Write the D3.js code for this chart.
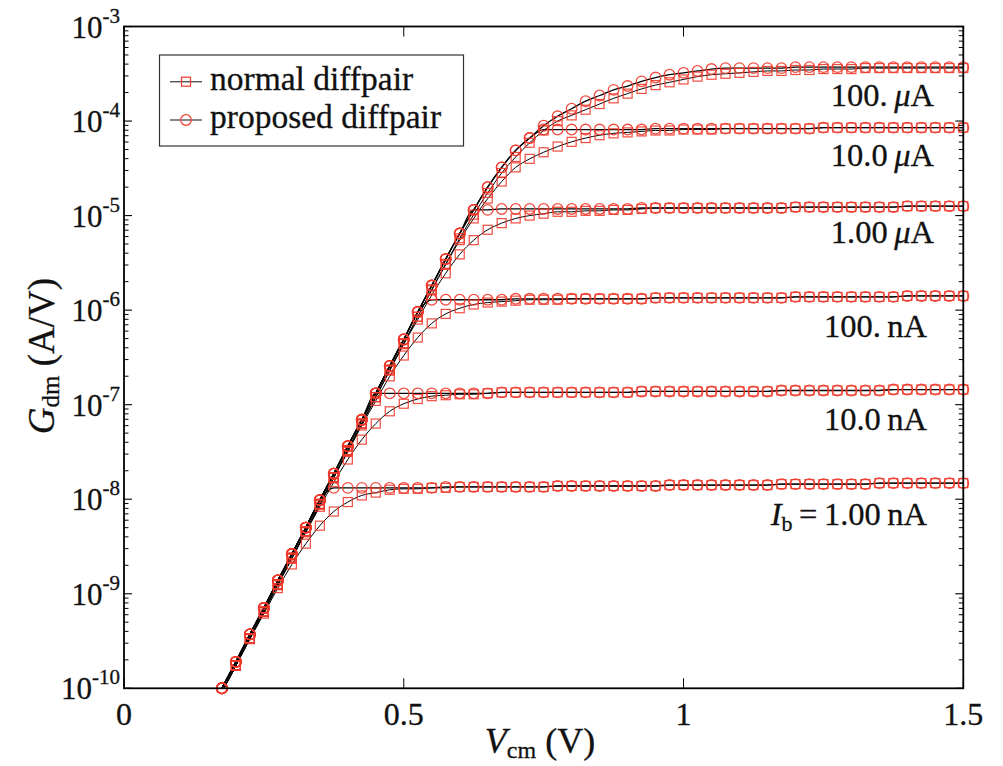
<!DOCTYPE html>
<html>
<head>
<meta charset="utf-8">
<script src="https://cdn.jsdelivr.net/npm/d3@7"></script>
<style>
  html, body { margin: 0; padding: 0; background: #fff; }
  svg { display: block; }
  text { font-family: "Liberation Serif", "Times New Roman", serif; fill: #111; stroke: #111; stroke-width: 0.3px; }
</style>
</head>
<body>
<svg id="chart" width="1003" height="766"></svg>
<script>
// ---------- data (log10 of Gdm in A/V) ----------
const vcm = [0.175,0.2,0.225,0.25,0.275,0.3,0.325,0.35,0.375,0.4,0.425,0.45,0.475,0.5,0.525,0.55,0.575,0.6,0.625,0.65,
  0.675,0.7,0.725,0.75,0.775,0.8,0.825,0.85,0.875,0.9,0.925,0.95,0.975,1.0,1.025,1.05,1.075,1.1,1.125,1.15,
  1.175,1.2,1.225,1.25,1.275,1.3,1.325,1.35,1.375,1.4,1.425,1.45,1.475,1.5];

const biasLabels = ["100. \u03BCA","10.0 \u03BCA","1.00 \u03BCA","100. nA","10.0 nA","1.00 nA"];

const propIb100uA = [-10.00,-9.72,-9.43,-9.15,-8.86,-8.58,-8.30,-8.01,-7.73,-7.44,-7.16,-6.88,-6.59,-6.31,-6.02,-5.74,-5.46,-5.19,-4.94,-4.70,
  -4.49,-4.31,-4.18,-4.05,-3.95,-3.87,-3.79,-3.73,-3.67,-3.63,-3.58,-3.54,-3.51,-3.49,-3.47,-3.45,-3.44,-3.44,-3.44,-3.44,
  -3.44,-3.43,-3.43,-3.43,-3.43,-3.43,-3.43,-3.43,-3.43,-3.43,-3.43,-3.43,-3.43,-3.43];
const propIb10uA = [-10.00,-9.72,-9.43,-9.15,-8.86,-8.58,-8.30,-8.01,-7.73,-7.44,-7.16,-6.88,-6.59,-6.31,-6.02,-5.74,-5.46,-5.19,-4.94,-4.70,
  -4.49,-4.31,-4.18,-4.09,-4.09,-4.09,-4.09,-4.09,-4.09,-4.09,-4.09,-4.08,-4.08,-4.08,-4.08,-4.08,-4.08,-4.08,-4.08,-4.08,
  -4.08,-4.08,-4.08,-4.07,-4.07,-4.07,-4.07,-4.07,-4.07,-4.07,-4.07,-4.07,-4.07,-4.07];
const propIb1uA = [-10.00,-9.72,-9.43,-9.15,-8.86,-8.58,-8.30,-8.01,-7.73,-7.44,-7.16,-6.88,-6.59,-6.31,-6.02,-5.74,-5.46,-5.19,-4.94,-4.94,
  -4.93,-4.93,-4.93,-4.93,-4.93,-4.93,-4.93,-4.93,-4.93,-4.93,-4.92,-4.92,-4.92,-4.92,-4.92,-4.92,-4.92,-4.92,-4.92,-4.92,
  -4.92,-4.91,-4.91,-4.91,-4.91,-4.91,-4.91,-4.91,-4.91,-4.90,-4.90,-4.90,-4.90,-4.90];
const propIb100nA = [-10.00,-9.72,-9.43,-9.15,-8.86,-8.58,-8.30,-8.01,-7.73,-7.44,-7.16,-6.88,-6.59,-6.31,-6.02,-5.89,-5.89,-5.89,-5.89,-5.89,
  -5.89,-5.88,-5.88,-5.88,-5.88,-5.88,-5.88,-5.88,-5.88,-5.88,-5.88,-5.87,-5.87,-5.87,-5.87,-5.87,-5.87,-5.87,-5.87,-5.87,
  -5.87,-5.86,-5.86,-5.86,-5.86,-5.86,-5.86,-5.86,-5.86,-5.85,-5.85,-5.85,-5.85,-5.85];
const propIb10nA = [-10.00,-9.72,-9.43,-9.15,-8.86,-8.58,-8.30,-8.01,-7.73,-7.44,-7.16,-6.88,-6.88,-6.88,-6.88,-6.88,-6.88,-6.88,-6.88,-6.88,
  -6.87,-6.87,-6.87,-6.87,-6.87,-6.87,-6.87,-6.87,-6.87,-6.87,-6.86,-6.86,-6.86,-6.86,-6.86,-6.86,-6.86,-6.86,-6.86,-6.86,
  -6.85,-6.85,-6.85,-6.85,-6.85,-6.85,-6.85,-6.85,-6.84,-6.84,-6.84,-6.84,-6.84,-6.84];
const propIb1nA = [-10.00,-9.72,-9.43,-9.15,-8.86,-8.58,-8.30,-8.01,-7.88,-7.88,-7.88,-7.88,-7.88,-7.88,-7.88,-7.88,-7.87,-7.87,-7.87,-7.87,
  -7.87,-7.87,-7.87,-7.87,-7.86,-7.86,-7.86,-7.86,-7.86,-7.86,-7.86,-7.86,-7.85,-7.85,-7.85,-7.85,-7.85,-7.85,-7.85,-7.85,
  -7.84,-7.84,-7.84,-7.84,-7.84,-7.84,-7.84,-7.83,-7.83,-7.83,-7.83,-7.83,-7.83,-7.83];

const normIb100uA = [-10.04,-9.76,-9.47,-9.19,-8.90,-8.62,-8.34,-8.05,-7.77,-7.48,-7.20,-6.92,-6.63,-6.35,-6.07,-5.78,-5.51,-5.24,-4.99,-4.76,
  -4.55,-4.38,-4.23,-4.10,-4.00,-3.94,-3.88,-3.82,-3.76,-3.71,-3.66,-3.62,-3.59,-3.56,-3.53,-3.51,-3.50,-3.49,-3.48,-3.47,
  -3.47,-3.46,-3.46,-3.45,-3.45,-3.45,-3.44,-3.44,-3.44,-3.44,-3.44,-3.44,-3.44,-3.44];
const normIb10uA = [-10.04,-9.76,-9.47,-9.19,-8.90,-8.62,-8.34,-8.05,-7.77,-7.48,-7.20,-6.92,-6.63,-6.35,-6.07,-5.79,-5.52,-5.26,-5.03,-4.82,
  -4.64,-4.49,-4.40,-4.33,-4.27,-4.22,-4.18,-4.15,-4.13,-4.12,-4.11,-4.10,-4.10,-4.09,-4.09,-4.09,-4.08,-4.08,-4.08,-4.08,
  -4.08,-4.08,-4.08,-4.07,-4.07,-4.07,-4.07,-4.07,-4.07,-4.07,-4.07,-4.07,-4.07,-4.07];
const normIb1uA = [-10.04,-9.76,-9.47,-9.19,-8.90,-8.62,-8.34,-8.05,-7.77,-7.49,-7.20,-6.92,-6.64,-6.36,-6.10,-5.84,-5.61,-5.41,-5.26,-5.15,
  -5.08,-5.03,-5.00,-4.98,-4.96,-4.96,-4.95,-4.95,-4.94,-4.94,-4.93,-4.92,-4.92,-4.92,-4.92,-4.92,-4.92,-4.92,-4.92,-4.92,
  -4.92,-4.91,-4.91,-4.91,-4.91,-4.91,-4.91,-4.91,-4.91,-4.90,-4.90,-4.90,-4.90,-4.90];
const normIb100nA = [-10.04,-9.76,-9.47,-9.19,-8.90,-8.62,-8.34,-8.06,-7.77,-7.50,-7.22,-6.96,-6.70,-6.48,-6.29,-6.14,-6.04,-5.98,-5.94,-5.92,
  -5.91,-5.90,-5.89,-5.89,-5.89,-5.88,-5.88,-5.88,-5.88,-5.88,-5.88,-5.87,-5.87,-5.87,-5.87,-5.87,-5.87,-5.87,-5.87,-5.87,
  -5.87,-5.86,-5.86,-5.86,-5.86,-5.86,-5.86,-5.86,-5.86,-5.85,-5.85,-5.85,-5.85,-5.85];
const normIb10nA = [-10.04,-9.76,-9.47,-9.19,-8.91,-8.63,-8.35,-8.08,-7.82,-7.58,-7.37,-7.20,-7.07,-6.99,-6.94,-6.91,-6.90,-6.89,-6.89,-6.88,
  -6.87,-6.87,-6.87,-6.87,-6.87,-6.87,-6.87,-6.87,-6.87,-6.87,-6.86,-6.86,-6.86,-6.86,-6.86,-6.86,-6.86,-6.86,-6.86,-6.86,
  -6.85,-6.85,-6.85,-6.85,-6.85,-6.85,-6.85,-6.85,-6.84,-6.84,-6.84,-6.84,-6.84,-6.84];
const normIb1nA = [-10.04,-9.76,-9.48,-9.21,-8.94,-8.69,-8.47,-8.28,-8.13,-8.03,-7.96,-7.93,-7.90,-7.89,-7.89,-7.88,-7.88,-7.87,-7.87,-7.87,
  -7.87,-7.87,-7.87,-7.87,-7.86,-7.86,-7.86,-7.86,-7.86,-7.86,-7.86,-7.86,-7.85,-7.85,-7.85,-7.85,-7.85,-7.85,-7.85,-7.85,
  -7.84,-7.84,-7.84,-7.84,-7.84,-7.84,-7.84,-7.83,-7.83,-7.83,-7.83,-7.83,-7.83,-7.83];

const xTicks = [0, 0.5, 1, 1.5];
const xTickLabels = ["0", "0.5", "1", "1.5"];
const yTickExps = [-10, -9, -8, -7, -6, -5, -4, -3];
const legendLabels = ["normal diffpair", "proposed diffpair"];

// ---------- layout ----------
const svg = d3.select("#chart");
const L = 124, R = 963.3, T = 26.5, B = 688.3;
const x = d3.scaleLinear().domain([0, 1.5]).range([L, R]);
const y = d3.scaleLog().domain([1e-10, 1e-3]).range([B, T]);
const red = "#f0392a";
const FONT = 31;

svg.append("rect").attr("width", 1003).attr("height", 766).attr("fill", "#fff");

svg.append("defs").append("clipPath").attr("id", "plotclip")
  .append("rect").attr("x", L).attr("y", T).attr("width", R - L).attr("height", B - T);

const normalSeries = [normIb100uA, normIb10uA, normIb1uA, normIb100nA, normIb10nA, normIb1nA];
const propSeries = [propIb100uA, propIb10uA, propIb1uA, propIb100nA, propIb10nA, propIb1nA];

const toPts = arr => arr.map((v, i) => ({ x: vcm[i], g: Math.pow(10, v) }));

const line = d3.line().x(d => x(d.x)).y(d => y(d.g)).curve(d3.curveMonotoneX);

const plot = svg.append("g");
const linesG = plot.append("g").attr("clip-path", "url(#plotclip)");
normalSeries.forEach(s => {
  linesG.append("path").datum(toPts(s)).attr("d", line)
    .attr("fill", "none").attr("stroke", "#000").attr("stroke-width", 1.0);
});
propSeries.forEach(s => {
  linesG.append("path").datum(toPts(s)).attr("d", line)
    .attr("fill", "none").attr("stroke", "#000").attr("stroke-width", 1.3);
});

// markers
const sq = 9, rc = 5.3;
normalSeries.forEach(s => {
  plot.append("g").selectAll("rect").data(toPts(s).filter(d => d.g >= 1e-10)).join("rect")
    .attr("x", d => x(d.x) - sq / 2).attr("y", d => y(d.g) - sq / 2)
    .attr("width", sq).attr("height", sq)
    .attr("fill", "none").attr("stroke", red).attr("stroke-width", 1.2).attr("stroke-opacity", 0.9);
});
propSeries.forEach(s => {
  plot.append("g").selectAll("circle").data(toPts(s).filter(d => d.g >= 1e-10)).join("circle")
    .attr("cx", d => x(d.x)).attr("cy", d => y(d.g)).attr("r", rc)
    .attr("fill", "none").attr("stroke", red).attr("stroke-width", 1.3).attr("stroke-opacity", 0.9);
});

// ---------- frame and ticks ----------
const ax = svg.append("g").attr("stroke", "#000");
ax.append("rect").attr("x", L).attr("y", T).attr("width", R - L).attr("height", B - T)
  .attr("fill", "none").attr("stroke-width", 1.8);

xTicks.forEach(t => {
  ax.append("line").attr("x1", x(t)).attr("x2", x(t)).attr("y1", B).attr("y2", B - 10).attr("stroke-width", 1);
  ax.append("line").attr("x1", x(t)).attr("x2", x(t)).attr("y1", T).attr("y2", T + 10).attr("stroke-width", 1);
});
yTickExps.forEach(e => {
  const yy = y(Math.pow(10, e));
  ax.append("line").attr("x1", L).attr("x2", L + 8).attr("y1", yy).attr("y2", yy).attr("stroke-width", 1.1);
  ax.append("line").attr("x1", R).attr("x2", R - 8).attr("y1", yy).attr("y2", yy).attr("stroke-width", 1.1);
  if (e < -3) {
    for (let m = 2; m <= 9; m++) {
      const ym = y(m * Math.pow(10, e));
      ax.append("line").attr("x1", L).attr("x2", L + 4.5).attr("y1", ym).attr("y2", ym).attr("stroke-width", 1);
      ax.append("line").attr("x1", R).attr("x2", R - 4.5).attr("y1", ym).attr("y2", ym).attr("stroke-width", 1);
    }
  }
});

// tick labels
xTicks.forEach((t, i) => {
  svg.append("text").attr("x", x(t)).attr("y", 725).attr("text-anchor", "middle")
    .attr("font-size", 32).text(xTickLabels[i]);
});
yTickExps.forEach(e => {
  const yy = y(Math.pow(10, e));
  const t = svg.append("text").attr("x", 120).attr("y", yy + 11).attr("text-anchor", "end")
    .attr("font-size", FONT);
  t.append("tspan").text("10");
  t.append("tspan").attr("font-size", 21).attr("dy", -15).text("-" + Math.abs(e));
});

// axis titles
const xt = svg.append("text").attr("x", 540).attr("y", 753).attr("text-anchor", "middle").attr("font-size", 36);
xt.append("tspan").attr("font-style", "italic").text("V");
xt.append("tspan").attr("font-size", 24).attr("dy", 5).text("cm");
xt.append("tspan").attr("dy", -5).text(" (V)");

const yt = svg.append("text").attr("transform", "translate(54,356) rotate(-90)")
  .attr("text-anchor", "middle").attr("font-size", 37);
yt.append("tspan").attr("font-style", "italic").text("G");
yt.append("tspan").attr("font-size", 25).attr("dy", 5).text("dm");
yt.append("tspan").attr("dy", -5).text(" (A/V)");

// bias annotations (placed under each plateau)
const annY = [106, 166, 243, 337, 430];
const annX = [934, 934, 934, 927, 927];
biasLabels.slice(0, 5).forEach((lab, i) => {
  const t = svg.append("text").attr("x", annX[i]).attr("y", annY[i]).attr("text-anchor", "end").attr("font-size", 32.5);
  const parts = lab.split(" ");
  t.append("tspan").text(parts[0] + "\u2009");
  if (parts[1].startsWith("\u03BC")) {
    t.append("tspan").attr("font-style", "italic").text("\u03BC");
    t.append("tspan").text(parts[1].slice(1));
  } else {
    t.append("tspan").text(parts[1]);
  }
});
{
  const t = svg.append("text").attr("x", 927).attr("y", 525).attr("text-anchor", "end").attr("font-size", 32.5);
  t.append("tspan").attr("font-style", "italic").text("I");
  t.append("tspan").attr("font-size", 22).attr("dy", 6).text("b");
  t.append("tspan").attr("dy", -6).text("\u2009=\u2009" + biasLabels[5].split(" ")[0] + "\u2009" + biasLabels[5].split(" ")[1]);
}

// legend
const lg = svg.append("g");
lg.append("rect").attr("x", 159.5).attr("y", 55).attr("width", 304).attr("height", 91)
  .attr("fill", "#fff").attr("stroke", "#333").attr("stroke-width", 1.2);
const rowsY = [81.7, 120];
rowsY.forEach((ry, i) => {
  lg.append("line").attr("x1", 170).attr("x2", 202).attr("y1", ry).attr("y2", ry)
    .attr("stroke", "#555").attr("stroke-width", 1.4);
  if (i === 0) {
    lg.append("rect").attr("x", 186 - sq / 2).attr("y", ry - sq / 2).attr("width", sq).attr("height", sq)
      .attr("fill", "none").attr("stroke", red).attr("stroke-width", 1.2);
  } else {
    lg.append("circle").attr("cx", 186).attr("cy", ry).attr("r", rc)
      .attr("fill", "none").attr("stroke", red).attr("stroke-width", 1.2);
  }
  lg.append("text").attr("x", 210).attr("y", ry + 7.8).attr("font-size", 33.5).text(legendLabels[i]);
});
</script>
</body>
</html>
